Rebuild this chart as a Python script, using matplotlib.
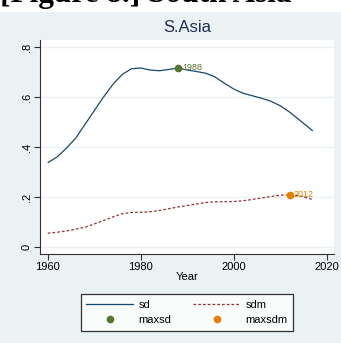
import matplotlib
matplotlib.use("Agg")
import matplotlib.pyplot as plt
from matplotlib.lines import Line2D

plt.rcParams['font.family'] = ['Liberation Sans', 'DejaVu Sans']

# Series (South Asia)
years = [1960, 1962, 1964, 1966, 1968, 1970, 1972, 1974, 1976, 1978, 1980,
         1982, 1984, 1986, 1988, 1990, 1992, 1994, 1996, 1998, 2000, 2002,
         2004, 2006, 2008, 2010, 2012, 2014, 2016, 2017]
sd = [0.337, 0.360, 0.395, 0.435, 0.490, 0.545, 0.600, 0.650, 0.690, 0.713,
      0.716, 0.708, 0.705, 0.710, 0.716, 0.708, 0.702, 0.695, 0.680, 0.655,
      0.632, 0.615, 0.605, 0.595, 0.583, 0.565, 0.540, 0.510, 0.480, 0.464]
sdm = [0.055, 0.059, 0.064, 0.071, 0.079, 0.092, 0.106, 0.120, 0.133, 0.138,
       0.139, 0.141, 0.146, 0.153, 0.160, 0.166, 0.172, 0.178, 0.181, 0.181,
       0.182, 0.185, 0.190, 0.196, 0.202, 0.207, 0.209, 0.205, 0.195, 0.190]
maxsd_year, maxsd_val = 1988, 0.716
maxsdm_year, maxsdm_val = 2012, 0.209

xticks = [1960, 1980, 2000, 2020]
yticks = [0, 0.2, 0.4, 0.6, 0.8]
ytick_labels = ["0", ".2", ".4", ".6", ".8"]

BG = "#eaf2f3"
NAVY = "#1a476f"
MAROON = "#90353b"
GREEN = "#55752f"
ORANGE = "#e37e00"
AXIS = "#333333"

W, H = 341, 343
fig = plt.figure(figsize=(W / 100, H / 100), dpi=100)
fig.patch.set_facecolor("white")

# graph region background
fig.add_artist(plt.Rectangle((0, 0), 1, 1 - 12 / H, transform=fig.transFigure,
                             facecolor=BG, edgecolor="none", zorder=0))

# heading above the graph (runs off the top edge)
fig.text(0.0, 1 - 2 / H, "[Figure 8.] South Asia", ha="left", va="baseline",
         fontsize=22.5, fontweight="bold", family=["Liberation Serif", "DejaVu Serif"],
         color="black")

ax = fig.add_axes([40 / W, 1 - 254 / H, (334 - 40) / W, (254 - 40) / H])
ax.set_facecolor("white")

ax.plot(years, sd, color=NAVY, lw=0.9, solid_capstyle="butt")
ax.plot(years, sdm, color=MAROON, lw=0.9, dashes=(2.2, 1.6))
ax.plot([maxsd_year], [maxsd_val], "o", color=GREEN, ms=4.5, zorder=5)
ax.plot([maxsdm_year], [maxsdm_val], "o", color=ORANGE, ms=4.5, zorder=5)
ax.annotate(str(maxsd_year), (maxsd_year, maxsd_val), xytext=(3, 0),
            textcoords="offset points", va="center", ha="left", fontsize=6.5,
            color=GREEN)
ax.annotate(str(maxsdm_year), (maxsdm_year, maxsdm_val), xytext=(3, 0),
            textcoords="offset points", va="center", ha="left", fontsize=6.5,
            color=ORANGE)

ax.set_xlim(1958.34, 2021.57)
ax.set_ylim(-0.028, 0.828)
ax.set_xticks(xticks)
ax.set_yticks(yticks)
ax.set_yticklabels(ytick_labels, rotation=90, va="center")
ax.grid(axis="y", color=BG, lw=1.0)
ax.set_axisbelow(True)
ax.tick_params(axis="both", direction="out", length=4, width=0.8, colors=AXIS,
               labelsize=8, labelcolor="black", pad=2)
for s in ("top", "right"):
    ax.spines[s].set_visible(False)
for s in ("left", "bottom"):
    ax.spines[s].set_color(AXIS)
    ax.spines[s].set_linewidth(0.8)

ax.set_xlabel("Year", fontsize=8, labelpad=0)
ax.set_title("S.Asia", fontsize=12, color="#1e2d53", pad=6)

handles = [
    Line2D([], [], color=NAVY, lw=0.9),
    Line2D([], [], color=GREEN, marker="o", ls="none", ms=4.5),
    Line2D([], [], color=MAROON, lw=0.9, dashes=(2.2, 1.6)),
    Line2D([], [], color=ORANGE, marker="o", ls="none", ms=4.5),
]
labels = ["sd", "maxsd", "sdm", "maxsdm"]
leg = fig.legend(handles, labels, ncol=2, loc="center",
                 bbox_to_anchor=(187 / W, 1 - 312.5 / H), fontsize=8,
                 frameon=True, fancybox=False, edgecolor="black",
                 handlelength=4.2, handletextpad=0.5, columnspacing=2.0,
                 labelspacing=0.45, borderpad=0.5)
leg.get_frame().set_linewidth(0.9)

fig.savefig("out.png", dpi=100, facecolor=fig.get_facecolor())
